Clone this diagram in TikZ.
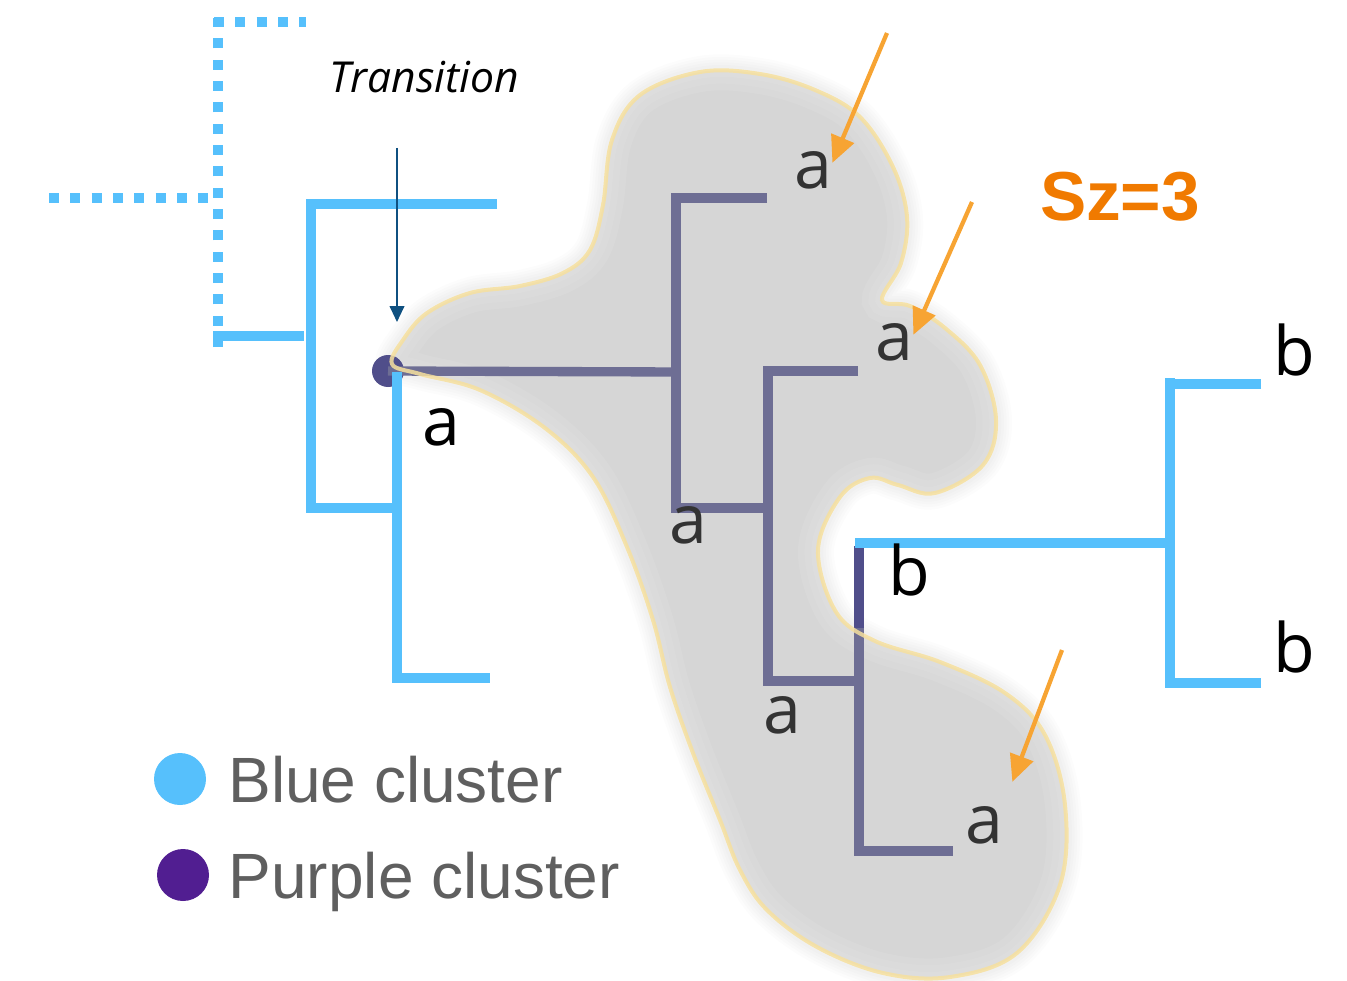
\documentclass[tikz,border=0pt]{standalone}
\usepackage{fontspec}
\newfontfamily\leaffont{Open Sans}
\newfontfamily\legendfont{Liberation Sans}
\usetikzlibrary{arrows.meta,positioning}

\definecolor{clBlue}{RGB}{86,192,252}
\definecolor{clPurple}{RGB}{110,110,148}
\definecolor{clPurpleDk}{RGB}{80,78,138}
\definecolor{clLegPurple}{RGB}{81,30,145}
\definecolor{clOrange}{RGB}{247,164,51}
\definecolor{clSz}{RGB}{240,122,0}
\definecolor{clBlob}{RGB}{214,214,214}
\definecolor{clRim}{RGB}{246,224,158}
\definecolor{clTrans}{RGB}{15,80,128}
\definecolor{clLegText}{RGB}{95,95,95}

\tikzset{every picture/.style={line width=0.75pt},
  bluebr/.style={draw=clBlue, line width=7.5pt},
  bluedots/.style={draw=clBlue, line width=7.5pt, dash pattern=on 7.5pt off 8.5pt},
  purplebr/.style={draw=clPurple, line width=7pt},
  leaf/.style={font=\leaffont\fontsize{51}{51}\selectfont, anchor=base, inner sep=0pt},
  hitarrow/.style={draw=clOrange, line width=3.2pt, -{Triangle[length=20pt,width=18pt]}},
  legdot/.style={circle, inner sep=0pt, minimum size=39pt},
  legtext/.style={font=\legendfont\fontsize{48}{48}\selectfont, text=clLegText, inner sep=0pt, text depth=0pt}
}

\begin{document}
\begin{tikzpicture}[x=0.75pt,y=0.75pt,yscale=-1,xscale=1]
\useasboundingbox (0,0) rectangle (1347,981);

%Shape: Blob
\path[save path=\blob] plot[smooth cycle, tension=0.6] coordinates {(392,364) (403,340) (427,313) (470,293) (520,286) (563,273) (590,250) (603,205) (612,140) (640,95) (700,72) (760,74) (815,90) (860,117) (893,167) (907,217) (901,263) (882,300) (910,306) (945,328) (980,365) (996,420) (983,465) (935,493) (898,485) (870,478) (840,497) (818,550) (836,612) (875,641) (940,662) (1005,693) (1045,735) (1065,805) (1060,885) (1017,953) (950,977) (883,973) (817,947) (767,910) (740,870) (720,820) (693,753) (670,687) (653,620) (627,547) (593,477) (545,428) (480,390) (420,374)};
\foreach \w in {24,20,16,12,8}
  \draw[black, opacity=0.012, line width=\w pt, use path=\blob];
\fill[clBlob, use path=\blob];
\begin{scope}
  \clip[use path=\blob];
  \foreach \w in {30,20,10}
    \draw[white, opacity=0.08, line width=\w pt, use path=\blob];
\end{scope}

%Dotted Lines (ancestors)
\draw[bluedots] (49,198) -- (210,198);
\draw[bluedots] (218,347) -- (218,18);
\draw[bluedots] (214,22) -- (306,22);

%Straight Lines (blue clade, left)
\draw[bluebr] (213,336) -- (304,336);
\draw[bluebr] (497,204) -- (311,204) -- (311,508) -- (395,508);

% Transition point
\node (trDot) [circle, fill=clPurpleDk, inner sep=0pt, minimum size=24pt] at (388,371) {};

%Straight Lines (purple clade)
\draw[purplebr] (trDot.center) -- (680,372);
\draw[purplebr] (767,198) -- (676,198) -- (676,508) -- (768,508);
\draw[purplebr] (858,371) -- (768,371) -- (768,681) -- (859,681);
\draw[purplebr] (859,546) -- (859,851) -- (953,851);
\draw[draw=clPurpleDk, line width=7pt] (859,546) -- (859,628);

%Straight Lines (blue clades)
\draw[bluebr] (397,372) -- (397,678) -- (490,678);
\draw[bluebr] (855,543) -- (1170,543);
\draw[bluebr] (1261,384) -- (1170,384) -- (1170,683) -- (1261,683);
\draw[bluebr] (1170,378) -- (1170,688);

%Blob rim
\draw[clRim, opacity=0.85, line width=3pt, use path=\blob];

% Text Node
\node (a0) [leaf] at (441,445) {a};
\node (a1) [leaf, text=black!80] at (813,188) {a};
\node (a2) [leaf, text=black!80] at (894,360) {a};
\node (a3) [leaf, text=black!80] at (688,543) {a};
\node (a4) [leaf, text=black!80] at (782,733) {a};
\node (a5) [leaf, text=black!80] at (984,843) {a};
\node (b1) [leaf] at (909,595) {b};
\node (b2) [leaf] at (1294,375) {b};
\node (b3) [leaf] at (1294,672) {b};

% Text Node
\node (trLabel) [font=\leaffont\itshape\fontsize{32}{32}\selectfont, anchor=base, inner sep=0pt] at (424,93) {Transition};
\node (szLabel) [font=\legendfont\bfseries\fontsize{52}{52}\selectfont, text=clSz, anchor=base, inner sep=0pt] at (1120,220) {Sz=3};

%Arrows
\coordinate (trTail) at (397,148);
\coordinate (trHead) at (397,322);
\draw[clTrans, line width=1.5pt, -{Triangle[length=12pt,width=11pt]}] (trTail) -- (trHead);
\coordinate (o1) at (887,33);
\coordinate (o2) at (972,202);
\coordinate (o3) at (1062,650);
\draw[hitarrow] (o1) -- (a1.20);
\draw[hitarrow] (o2) -- (a2.20);
\draw[hitarrow, shorten >=19pt] (o3) -- (a5.north east);

% Legend
\node (legBlue) [legdot, fill=clBlue] at (180,779) {};
\node (legPurple) [legdot, fill=clLegPurple] at (183,875) {};
\node (legBlueText) [legtext, right=16pt of legBlue] {Blue cluster};
\node (legPurpleText) [legtext, right=14pt of legPurple] {Purple cluster};

\end{tikzpicture}
\end{document}
